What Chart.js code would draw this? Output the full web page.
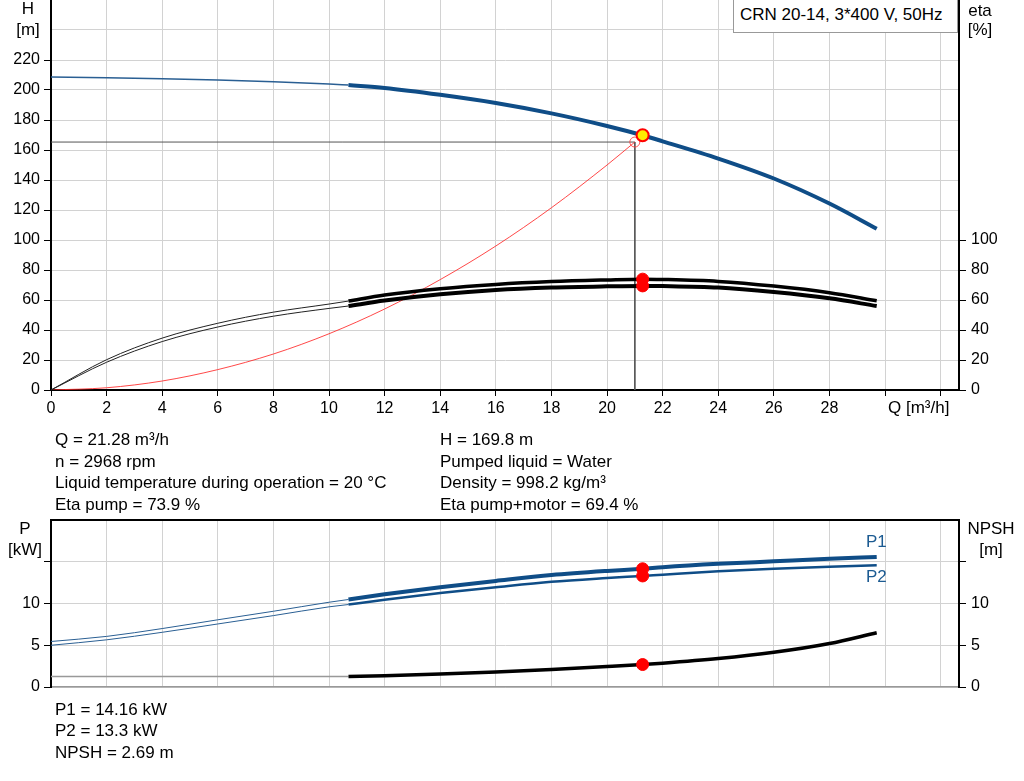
<!DOCTYPE html>
<html><head><meta charset="utf-8">
<script src="https://cdn.jsdelivr.net/npm/chart.js@4/dist/chart.umd.min.js"></script>
<style>
html,body{margin:0;padding:0;background:#fff;}
body{width:1024px;height:781px;position:relative;overflow:hidden;font-family:"Liberation Sans",Arial,sans-serif;color:#000;}
.t{position:absolute;font-size:17px;line-height:21.5px;white-space:nowrap;z-index:5;}
.c{text-align:center;}
#w1{position:absolute;left:0;top:-10px;width:1024px;height:440px;}
#w2{position:absolute;left:0;top:510px;width:1024px;height:190px;}
#legend{position:absolute;left:733px;top:0;width:225px;height:33px;border:1px solid #999;border-top:none;background:#fff;z-index:6;font-size:17px;line-height:30px;padding-left:6px;box-sizing:border-box;white-space:nowrap;}
</style></head><body>
<div id="w1"><canvas id="c1"></canvas></div>
<div id="w2"><canvas id="c2"></canvas></div>

<div class="t c" style="left:8px;top:-2px;width:40px;">H</div>
<div class="t c" style="left:8px;top:19px;width:40px;">[m]</div>
<div class="t c" style="left:960px;top:0px;width:40px;">eta</div>
<div class="t c" style="left:960px;top:19px;width:40px;">[%]</div>
<div id="legend">CRN 20-14, 3*400 V, 50Hz</div>
<div class="t" style="left:888px;top:397px;">Q [m³/h]</div>

<div class="t" style="left:55px;top:429px;">Q = 21.28 m³/h</div>
<div class="t" style="left:55px;top:451px;">n = 2968 rpm</div>
<div class="t" style="left:55px;top:472px;">Liquid temperature during operation = 20 °C</div>
<div class="t" style="left:55px;top:494px;">Eta pump = 73.9 %</div>
<div class="t" style="left:440px;top:429px;">H = 169.8 m</div>
<div class="t" style="left:440px;top:451px;">Pumped liquid = Water</div>
<div class="t" style="left:440px;top:472px;">Density = 998.2 kg/m³</div>
<div class="t" style="left:440px;top:494px;">Eta pump+motor = 69.4 %</div>

<div class="t c" style="left:5px;top:518px;width:40px;">P</div>
<div class="t c" style="left:5px;top:539px;width:40px;">[kW]</div>
<div class="t c" style="left:966px;top:518px;width:50px;">NPSH</div>
<div class="t c" style="left:966px;top:539px;width:50px;">[m]</div>
<div class="t" style="left:866px;top:531px;color:#1b5a91;">P1</div>
<div class="t" style="left:866px;top:566px;color:#1b5a91;">P2</div>

<div class="t" style="left:55px;top:699px;">P1 = 14.16 kW</div>
<div class="t" style="left:55px;top:720px;">P2 = 13.3 kW</div>
<div class="t" style="left:55px;top:742px;">NPSH = 2.69 m</div>

<script>
// ---- data ----
const Q       = [0, 2, 4, 6, 8, 10, 10.7, 12, 14, 16, 18, 20, 21.28, 22, 24, 26, 28, 29.7];
const H       = [208.7, 208.2, 207.5, 206.6, 205.5, 204.0, 203.3, 201.4, 196.8, 191.3, 184.4, 176.0, 169.8, 165.8, 154.3, 141.0, 124.3, 107.5];
const ETA_P   = [0, 20.2, 34.6, 44.5, 51.9, 57.3, 59.3, 63.3, 67.5, 70.4, 72.3, 73.4, 73.9, 73.7, 72.4, 69.3, 64.9, 59.5];
const ETA_PM  = [0, 18.5, 32.3, 42.0, 49.2, 54.4, 56.0, 59.6, 63.8, 66.7, 68.3, 69.1, 69.4, 69.3, 68.3, 65.3, 61.1, 56.0];
const P1      = [5.45, 6.06, 7.0, 8.05, 9.07, 10.15, 10.48, 11.1, 11.95, 12.7, 13.4, 13.9, 14.16, 14.35, 14.75, 15.05, 15.35, 15.58];
const P2      = [5.0, 5.65, 6.55, 7.55, 8.55, 9.6, 9.88, 10.45, 11.25, 11.95, 12.6, 13.05, 13.3, 13.45, 13.85, 14.15, 14.4, 14.58];
const NPSH    = [1.25, 1.25, 1.25, 1.25, 1.25, 1.25, 1.25, 1.35, 1.55, 1.8, 2.1, 2.45, 2.69, 2.85, 3.4, 4.15, 5.2, 6.5];
const Q_SPLIT = 10.7;

const SYS_Q   = [0, 2, 4, 6, 8, 10, 12, 14, 16, 18, 20, 21];
const SYS_H   = [0, 1.5, 6, 13.6, 24, 37.5, 54, 73.6, 96, 121.5, 150, 165.3];

const DUTY_Q = 21.28, DUTY_H = 169.8, DUTY_ETA_P = 73.9, DUTY_ETA_PM = 69.4;
const DUTY_P1 = 14.16, DUTY_P2 = 13.3, DUTY_NPSH = 2.69;
const REQ_Q = 21.0, REQ_H = 165.3;

const Q_TICKS    = [0,2,4,6,8,10,12,14,16,18,20,22,24,26,28,30,32];
const H_TICKS    = [0,20,40,60,80,100,120,140,160,180,200,220,240];
const ETA_TICKS  = [0,20,40,60,80,100];
const P_TICKS    = [0,5,10,15,20];
const NPSH_TICKS = [0,5,10,15];
const Q_MAX = 32.66, H_MAX = 260, P_MAX = 20;

// ---- helpers ----
const pts = (xs, ys, f) => xs.map((x,i)=>({x, y: ys[i]})).filter(p => !f || f(p.x));
const thin = q => q <= Q_SPLIT, thick = q => q >= Q_SPLIT;
const FONT = {family:'"Liberation Sans", Arial, sans-serif', size:16};
const GRID = '#d2d2d2';
const BLUE = '#0f4d87', BLUE_T = '#2a5f93';
function line(data, color, width, yAxisID, order){
  return {data, showLine:true, borderColor:color, borderWidth:width, pointRadius:0, pointHoverRadius:0,
          cubicInterpolationMode:'monotone', yAxisID, order, fill:false};
}
function dot(data, bg, border, r, bw, yAxisID, order){
  return {data, showLine:false, pointRadius:r, pointBackgroundColor:bg, pointBorderColor:border,
          pointBorderWidth:bw, backgroundColor:bg, borderColor:border, yAxisID, order};
}
const ticksFrom = arr => s => { s.ticks = arr.map(v => ({value:v})); };
const fitW = w => s => { s.width = w; s.paddingTop = 0; s.paddingBottom = 0; };
const fitH = h => s => { s.height = h; s.paddingLeft = 0; s.paddingRight = 0; };

Chart.defaults.animation = false;
Chart.defaults.font.family = FONT.family;

// ---- top chart: H and eta ----
new Chart(document.getElementById('c1'), {
  type:'scatter',
  data:{datasets:[
    dot([{x:DUTY_Q,y:DUTY_H}], '#ffee00', '#ff0000', 6, 2, 'y', 0),
    dot([{x:DUTY_Q,y:DUTY_ETA_P},{x:DUTY_Q,y:DUTY_ETA_PM}], '#ff0000', '#ff0000', 6, 1, 'y2', 1),
    dot([{x:REQ_Q,y:REQ_H}], 'rgba(0,0,0,0)', 'rgba(255,60,60,0.85)', 5, 1, 'y', 2),
    line(pts(Q,H,thick), BLUE, 4, 'y', 3),
    line(pts(Q,H,thin), BLUE_T, 1.5, 'y', 4),
    line(pts(Q,ETA_P,thick), '#000', 3.5, 'y2', 5),
    line(pts(Q,ETA_PM,thick), '#000', 4, 'y2', 6),
    line(pts(Q,ETA_P,thin), '#222', 1, 'y2', 7),
    line(pts(Q,ETA_PM,thin), '#222', 1, 'y2', 8),
    line(pts(SYS_Q,SYS_H), 'rgba(255,40,40,0.85)', 1, 'y', 9),
    Object.assign(line([{x:0,y:REQ_H},{x:REQ_Q,y:REQ_H}], '#555', 1, 'y', 10), {cubicInterpolationMode:'default', tension:0}),
    Object.assign(line([{x:REQ_Q,y:REQ_H},{x:REQ_Q,y:0}], '#555', 1, 'y', 11), {cubicInterpolationMode:'default', tension:0})
  ]},
  options:{
    responsive:true, maintainAspectRatio:false, animation:false,
    layout:{padding:{top:10, left:0, right:0, bottom:0}},
    plugins:{legend:{display:false}, tooltip:{enabled:false}},
    events:[],
    scales:{
      x:{type:'linear', min:0, max:Q_MAX, afterBuildTicks:ticksFrom(Q_TICKS), afterFit:fitH(40),
         ticks:{font:FONT, color:'#000', padding:3, maxRotation:0, autoSkip:false, callback:v => v<=28 ? String(v) : ''},
         grid:{color:GRID, lineWidth:1, tickLength:6, tickColor:'#000'},
         border:{color:'#000', width:2}},
      y:{type:'linear', position:'left', min:0, max:H_MAX, afterBuildTicks:ticksFrom(H_TICKS), afterFit:fitW(51),
         ticks:{font:FONT, color:'#000', padding:4, autoSkip:false, callback:v => v<=220 ? String(v) : ''},
         grid:{color:GRID, lineWidth:1, tickLength:7, tickColor:c => (c.tick && c.tick.value>220) ? 'rgba(0,0,0,0)' : '#000'},
         border:{color:'#000', width:2}},
      y2:{type:'linear', position:'right', min:0, max:H_MAX, afterBuildTicks:ticksFrom(ETA_TICKS), afterFit:fitW(65),
         ticks:{font:FONT, color:'#000', padding:5, autoSkip:false, callback:v => String(v)},
         grid:{drawOnChartArea:false, tickLength:7, tickColor:'#000'},
         border:{color:'#000', width:2}}
    }
  }
});

// ---- bottom chart: P and NPSH ----
new Chart(document.getElementById('c2'), {
  type:'scatter',
  data:{datasets:[
    dot([{x:DUTY_Q,y:DUTY_P1},{x:DUTY_Q,y:DUTY_P2}], '#ff0000', '#ff0000', 6, 1, 'y', 0),
    dot([{x:DUTY_Q,y:DUTY_NPSH}], '#ff0000', '#ff0000', 6, 1, 'y2', 1),
    line(pts(Q,P1,thick), BLUE, 4, 'y', 2),
    line(pts(Q,P2,thick), BLUE, 2.5, 'y', 3),
    line(pts(Q,P1,thin), BLUE_T, 1, 'y', 4),
    line(pts(Q,P2,thin), BLUE_T, 1, 'y', 5),
    line(pts(Q,NPSH,thick), '#000', 3.5, 'y2', 6),
    line(pts(Q,NPSH,thin), '#999', 1.5, 'y2', 7)
  ]},
  options:{
    responsive:true, maintainAspectRatio:false, animation:false,
    layout:{padding:{top:10, left:0, right:0, bottom:0}},
    plugins:{legend:{display:false}, tooltip:{enabled:false}},
    events:[],
    scales:{
      x:{type:'linear', min:0, max:Q_MAX, afterBuildTicks:ticksFrom(Q_TICKS), afterFit:fitH(13),
         ticks:{display:false},
         grid:{color:GRID, lineWidth:1, drawTicks:false},
         border:{color:'#999', width:1.5}},
      y:{type:'linear', position:'left', min:0, max:P_MAX, afterBuildTicks:ticksFrom(P_TICKS), afterFit:fitW(51),
         ticks:{font:FONT, color:'#000', padding:4, autoSkip:false, callback:v => v<=10 ? String(v) : ''},
         grid:{color:c => (c.tick && c.tick.value===20) ? '#000' : GRID,
               lineWidth:c => (c.tick && c.tick.value===20) ? 2 : 1,
               tickLength:7, tickColor:c => (c.tick && c.tick.value===20) ? 'rgba(0,0,0,0)' : '#000'},
         border:{color:'#000', width:2}},
      y2:{type:'linear', position:'right', min:0, max:P_MAX, afterBuildTicks:ticksFrom(NPSH_TICKS), afterFit:fitW(65),
         ticks:{font:FONT, color:'#000', padding:5, autoSkip:false, callback:v => v<=10 ? String(v) : ''},
         grid:{drawOnChartArea:false, tickLength:7, tickColor:'#000'},
         border:{color:'#000', width:2}}
    }
  }
});
</script>
</body></html>
